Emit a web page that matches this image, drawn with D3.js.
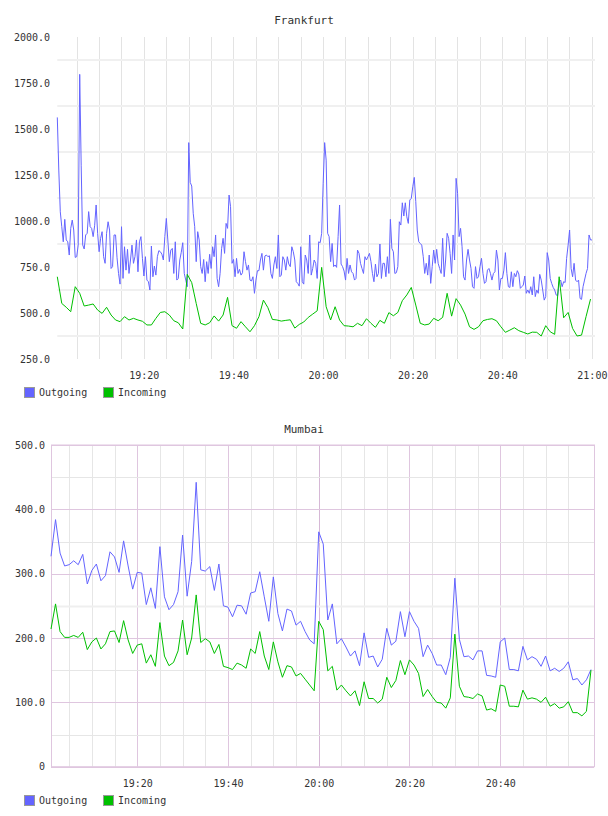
<!DOCTYPE html>
<html>
<head>
<meta charset="utf-8">
<script src="https://cdn.jsdelivr.net/npm/d3@7"></script>
<style>
  body { margin: 0; background: #fff; }
  text { font-family: "DejaVu Sans Mono", monospace; font-size: 10px; fill: #333; }
  .title { font-size: 11px; }
</style>
</head>
<body>
<script>
// ---- data ----
// Frankfurt: outgoing every 20 s, incoming every minute, both from 19:00:42
let frankfurtStart = "19:00:42";
let frankfurtOut = [
  1563, 1277, 1050, 969, 887, 1009, 897, 887, 815, 960,
  1005, 951, 802, 806, 869, 1797, 1300, 870, 848, 924,
  933, 1051, 969, 960, 915, 974, 1087, 933, 833, 906,
  942, 806, 770, 933, 996, 951, 742, 752, 924, 924,
  800, 715, 657, 969, 688, 860, 733, 846, 715, 788,
  869, 770, 806, 897, 724, 887, 915, 797, 701, 806,
  679, 670, 625, 864, 697, 755, 706, 806, 839, 833,
  820, 788, 915, 1014, 897, 779, 842, 851, 715, 887,
  679, 688, 788, 830, 882, 715, 679, 643, 1426, 1210,
  1190, 1042, 969, 779, 942, 897, 752, 715, 791, 670,
  779, 715, 819, 742, 860, 806, 924, 688, 643, 715,
  850, 906, 824, 987, 960, 1141,
  1078, 770, 791, 697, 797, 715, 737, 706, 719, 833,
  779, 733, 761, 679, 674, 697, 607, 679, 730, 730,
  788, 824, 733, 810, 815, 806, 811, 715, 688, 761,
  806, 742, 924, 697, 706, 806, 788, 733, 806, 766,
  752, 860, 833, 788, 670, 661, 646, 860, 670, 657,
  815, 788, 715, 924, 706, 742, 788, 770, 688, 887,
  882, 933, 1205, 1426, 1331, 933, 915, 779, 878, 752,
  761, 748, 915, 1087, 766, 752, 728, 679, 797, 715,
  761, 724, 715, 679, 688, 842, 824, 770, 742, 715,
  806, 788, 806, 824, 779, 715, 670, 766, 697, 715,
  875, 688, 770, 770, 697, 806, 715, 1009, 851, 833,
  715, 719, 752, 996, 978, 1099, 1027, 1099, 1023,
  987, 1114, 1123, 1186, 1237, 1105, 951, 887, 878, 869,
  806, 715, 770, 706, 815, 661, 752, 842, 770, 846,
  770, 742, 715, 906, 697, 788, 933, 906, 824, 715,
  924, 788, 1232, 1150, 915, 960, 860, 697, 679, 788,
  846, 788, 742, 643, 634, 752, 688, 697, 752, 797,
  715, 661, 670, 733, 742, 715, 679,
  715, 724, 842, 788, 625, 688, 688, 733, 828, 715, 643, 639, 724, 643,
  715, 697, 730, 712, 634,
  643, 652, 701, 607, 625, 607, 643,
  598, 697, 589, 625, 607, 710, 679, 625, 570,
  589,
  828, 788, 688, 661, 639, 625,
  598, 594, 670, 679,
  643, 670, 666, 797, 869, 951, 742, 697, 770, 679, 670, 679, 579, 574, 643, 679, 715, 742,
  924, 897, 897
];
let frankfurtIn = [
  697, 552, 531, 507, 643, 607, 538, 543, 549, 516,
  498, 531, 489, 462, 453, 480, 462, 471, 462, 455,
  435, 435, 471, 503, 507, 489, 458, 447, 413, 710,
  665, 552, 444, 435, 447, 484, 456, 489, 585, 431,
  417, 453, 425, 398, 431, 480, 570, 529, 465, 462,
  456, 460, 463, 418, 438, 451, 476, 494, 512, 748,
  534, 462, 534, 462, 431, 429, 425, 444, 431, 469,
  444, 422, 460, 444, 502, 485, 503, 567, 598, 639,
  543, 444, 435, 440, 471, 458, 476, 607, 483, 578,
  543, 494, 425, 411, 425, 458, 465, 469, 458, 425,
  395, 407, 420, 404, 395, 386, 396, 395, 375, 431,
  398, 384, 697, 474, 503, 416, 375, 380, 480, 576
];
let frankfurtTicks = [250, 500, 750, 1000, 1250, 1500, 1750, 2000];

// Mumbai: both series every minute from 19:01
let mumbaiStart = "19:01:00";
let mumbaiOut = [
  327, 384, 332, 312, 314, 320, 314, 330, 284, 305,
  315, 289, 297, 334, 326, 302, 351, 312, 276, 302,
  301, 252, 278, 246, 342, 264, 244, 252, 272, 360,
  265, 319, 442, 306, 304, 311, 274, 315, 250, 248,
  233, 251, 250, 237, 270, 272, 303, 264, 226, 295,
  238, 211, 245, 242, 220, 226, 210, 197, 191, 365,
  346, 228, 253, 191, 199, 186, 172, 180, 157, 208,
  170, 172, 155, 167, 215, 189, 195, 241, 202, 241,
  226, 215, 171, 189, 176, 158, 158, 143, 170, 293,
  198, 171, 172, 166, 180, 180, 142, 141, 139, 194,
  200, 151, 151, 149, 187, 166, 171, 167, 156, 172,
  149, 153, 148, 153, 163, 135, 137, 127, 135, 151
];
let mumbaiIn = [
  214, 253, 210, 201, 201, 204, 201, 209, 182, 194,
  200, 183, 191, 210, 211, 193, 227, 197, 176, 189,
  191, 161, 174, 156, 224, 172, 157, 162, 180, 228,
  174, 200, 267, 193, 199, 194, 176, 190, 156, 154,
  151, 161, 158, 153, 183, 176, 210, 172, 151, 194,
  163, 139, 157, 155, 141, 145, 136, 127, 118, 226,
  213, 149, 156, 119, 127, 118, 110, 118, 95, 132,
  106, 106, 99, 105, 139, 123, 134, 165, 143, 166,
  158, 145, 109, 120, 109, 100, 99, 91, 107, 206,
  125, 109, 108, 106, 113, 110, 88, 90, 86, 127,
  125, 94, 94, 93, 119, 105, 107, 105, 100, 108,
  94, 98, 91, 93, 101, 84, 84, 79, 86, 150
];
let mumbaiTicks = [0, 100, 200, 300, 400, 500];

let seriesNames = ["Outgoing", "Incoming"];
let blue = "#6464ff", green = "#00c000";
let pink = "#dfc6df";

let parseTime = d3.timeParse("%H:%M:%S");

// turns a value list into {t, v} points, one every stepSec seconds
function toPoints(values, start, stepSec){
  let t0 = parseTime(start).getTime();
  return values.map((v, i) => ({t: new Date(t0 + i * stepSec * 1000), v: v}));
}

let svg = d3.select("body").append("svg")
  .attr("width", 608)
  .attr("height", 816);

function legend(y){
  let g = svg.append("g").attr("transform", "translate(0," + y + ")");
  let items = [{name: seriesNames[0], c: blue, x: 24}, {name: seriesNames[1], c: green, x: 103}];
  items.forEach(d => {
    g.append("rect").attr("x", d.x + 0.5).attr("y", -4.5).attr("width", 10).attr("height", 10)
      .attr("fill", d.c).attr("stroke", "#999");
    g.append("text").attr("x", d.x + 15).attr("y", 0).attr("dy", "0.35em").text(d.name);
  });
}

function drawLine(data, x, y, color){
  svg.append("path")
    .datum(data)
    .attr("fill", "none")
    .attr("stroke", color)
    .attr("stroke-width", 1)
    .attr("stroke-linejoin", "round")
    .attr("d", d3.line().x(d => x(d.t)).y(d => y(d.v)));
}

// ================= Frankfurt =================
{
  let t0 = parseTime(frankfurtStart);
  let xF = d3.scaleTime()
    .domain([t0, d3.timeHour.offset(t0, 2)])
    .range([57.3, 595]);
  let yF = d3.scaleLinear().domain([250, 2000]).range([359, 37]);

  svg.append("text").attr("class", "title")
    .attr("x", 304).attr("y", 20).attr("dy", "0.35em")
    .attr("text-anchor", "middle").text("Frankfurt");

  // vertical grid every 5 minutes
  svg.append("g").selectAll("line")
    .data(xF.ticks(d3.timeMinute.every(5)))
    .join("line")
      .attr("x1", d => Math.round(xF(d)) + 0.5).attr("x2", d => Math.round(xF(d)) + 0.5)
      .attr("y1", yF(2000)).attr("y2", yF(250))
      .attr("stroke", "#e3e3e3");

  // horizontal grid sits half way between the labels
  svg.append("g").selectAll("line")
    .data(frankfurtTicks.slice(0, -1).map(d => d + 125))
    .join("line")
      .attr("x1", xF.range()[0]).attr("x2", xF.range()[1])
      .attr("y1", d => yF(d)).attr("y2", d => yF(d))
      .attr("stroke", "#f0f0f0").attr("stroke-width", 2);

  let yAxis = d3.axisLeft(yF).tickValues(frankfurtTicks)
    .tickFormat(d3.format(".1f")).tickSize(0).tickPadding(1);
  let yg = svg.append("g").attr("transform", "translate(51,0)").call(yAxis);
  yg.select(".domain").remove();

  let xAxis = d3.axisBottom(xF).ticks(d3.timeMinute.every(20))
    .tickFormat(d3.timeFormat("%H:%M")).tickSize(0).tickPadding(13);
  let xg = svg.append("g").attr("transform", "translate(0,359)").call(xAxis);
  xg.select(".domain").remove();

  drawLine(toPoints(frankfurtOut, frankfurtStart, 20), xF, yF, blue);
  drawLine(toPoints(frankfurtIn, frankfurtStart, 60), xF, yF, green);

  legend(392);
}

// ================= Mumbai =================
{
  let t0 = parseTime(mumbaiStart);
  let tEnd = parseTime("21:00:40");
  let xM = d3.scaleTime()
    .domain([t0, tEnd])
    .range([51, 594]);
  let yM = d3.scaleLinear().domain([0, 500]).range([766.7, 445]);

  svg.append("text").attr("class", "title")
    .attr("x", 304).attr("y", 429).attr("dy", "0.35em")
    .attr("text-anchor", "middle").text("Mumbai");

  // nothing is drawn on the 21:00 line, the frame closes the plot there
  let lastTick = parseTime("20:59:00");
  let minorX = xM.ticks(d3.timeMinute.every(5)).filter(d => d < lastTick);
  svg.append("g").selectAll("line")
    .data(minorX)
    .join("line")
      .attr("x1", d => Math.round(xM(d)) + 0.5).attr("x2", d => Math.round(xM(d)) + 0.5)
      .attr("y1", yM(500)).attr("y2", yM(0))
      .attr("stroke", d => d.getMinutes() === 0 ? "#d6b8d6" : d.getMinutes() % 20 === 0 ? pink : "#e6e6e6");

  let minorY = d3.range(50, 500, 100);
  svg.append("g").selectAll("line")
    .data(minorY)
    .join("line")
      .attr("x1", xM.range()[0]).attr("x2", xM.range()[1])
      .attr("y1", d => Math.round(yM(d)) + 0.5).attr("y2", d => Math.round(yM(d)) + 0.5)
      .attr("stroke", d => d === 250 ? "#efefef" : "#e6e6e6")
      .attr("stroke-width", d => d === 250 ? 2 : 1);

  svg.append("g").selectAll("line")
    .data(mumbaiTicks)
    .join("line")
      .attr("x1", xM.range()[0]).attr("x2", xM.range()[1])
      .attr("y1", d => Math.round(yM(d)) + 0.5).attr("y2", d => Math.round(yM(d)) + 0.5)
      .attr("stroke", pink);

  svg.append("rect")
    .attr("x", xM.range()[0] + 0.5).attr("y", yM(500))
    .attr("width", xM.range()[1] - xM.range()[0]).attr("height", yM(0) - yM(500))
    .attr("fill", "none").attr("stroke", pink);

  let yAxis = d3.axisLeft(yM).tickValues(mumbaiTicks)
    .tickFormat(d => d === 0 ? "0" : d3.format(".1f")(d)).tickSize(0).tickPadding(6);
  let yg = svg.append("g").attr("transform", "translate(51,0)").call(yAxis);
  yg.select(".domain").remove();

  let xAxis = d3.axisBottom(xM)
    .tickValues(xM.ticks(d3.timeMinute.every(20)).filter(d => d < lastTick))
    .tickFormat(d3.timeFormat("%H:%M")).tickSize(0).tickPadding(13);
  let xg = svg.append("g").attr("transform", "translate(0,767)").call(xAxis);
  xg.select(".domain").remove();

  drawLine(toPoints(mumbaiOut, mumbaiStart, 60), xM, yM, blue);
  drawLine(toPoints(mumbaiIn, mumbaiStart, 60), xM, yM, green);

  legend(800);
}
</script>
</body>
</html>
